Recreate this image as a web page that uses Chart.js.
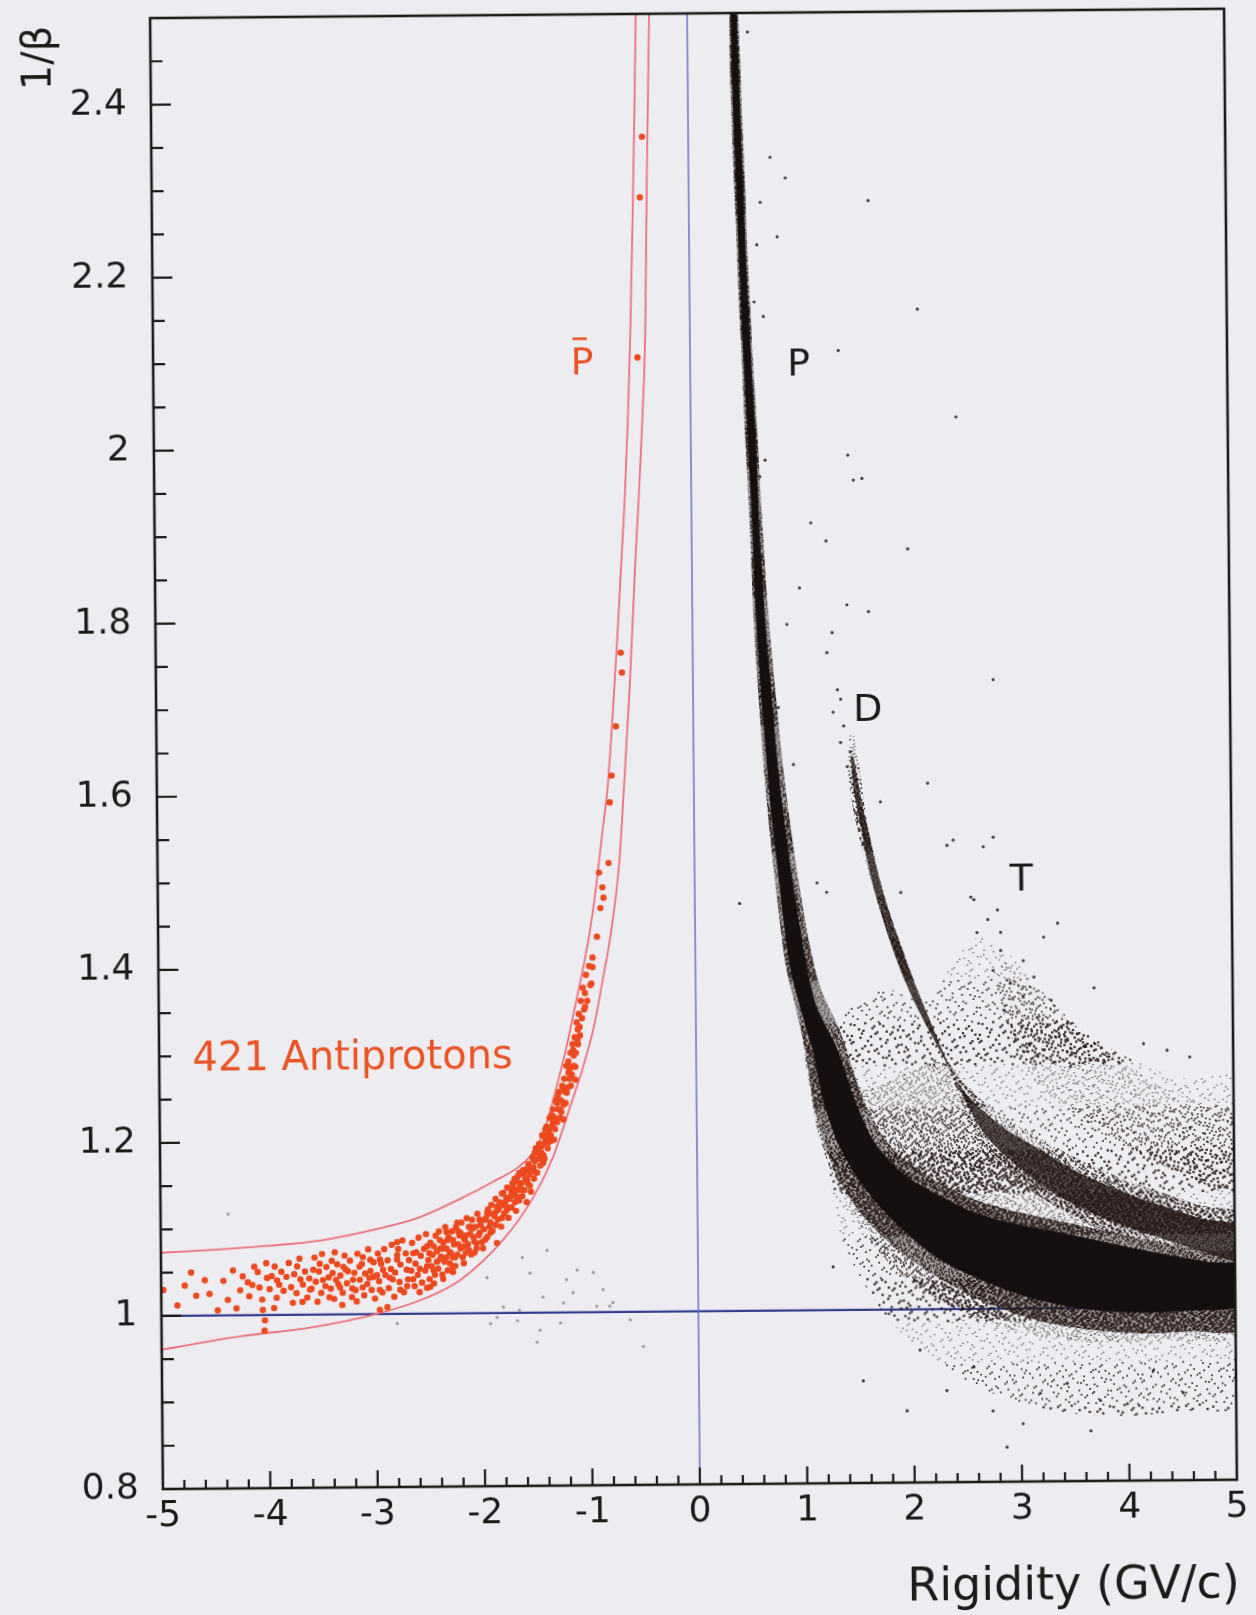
<!DOCTYPE html>
<html>
<head>
<meta charset="utf-8">
<title>1/β vs rigidity</title>
<script src="https://cdn.jsdelivr.net/npm/chart.js@4.4.0/dist/chart.umd.min.js"></script>
<style>
  html, body { margin: 0; padding: 0; background: #edecf0; overflow: hidden; }
  #wrap { width: 1256px; height: 1615px; }
  /* the printed figure sits slightly askew on the page */
  #tof { display: block; transform: rotate(-0.5deg); transform-origin: 628px 807px; }
</style>
</head>
<body>
<div id="wrap"><canvas id="tof" width="1256" height="1615"></canvas></div>
<script>
// axis ticks
const rigidityTicks = [-5, -4, -3, -2, -1, 0, 1, 2, 3, 4, 5];
const invBetaTicks = [0.8, 1, 1.2, 1.4, 1.6, 1.8, 2, 2.2, 2.4];

// antiproton selection band (upper and lower cut curves), [R, 1/beta]
const cutUpper = [[-5.0,1.073],[-4.5,1.076],[-4.0,1.080],[-3.5,1.086],[-3.0,1.098],[-2.6,1.111],[-2.2,1.133],
  [-1.9,1.152],[-1.65,1.170],[-1.50,1.190],[-1.39,1.222],[-1.30,1.262],[-1.21,1.305],[-1.13,1.35],[-1.05,1.395],
  [-0.98,1.44],[-0.92,1.49],[-0.86,1.55],[-0.80,1.61],[-0.75,1.69],[-0.70,1.78],[-0.655,1.87],[-0.62,1.94],
  [-0.585,2.03],[-0.555,2.13],[-0.525,2.26],[-0.50,2.38],[-0.475,2.52]];
const cutLower = [[-5.0,0.961],[-4.25,0.976],[-3.62,0.985],[-3.0,1.0],[-2.52,1.019],[-2.21,1.039],[-1.81,1.085],
  [-1.53,1.133],[-1.34,1.18],[-1.18,1.237],[-1.06,1.281],[-0.95,1.33],[-0.87,1.38],[-0.775,1.445],[-0.70,1.52],
  [-0.654,1.60],[-0.59,1.72],[-0.525,1.87],[-0.49,1.94],[-0.45,2.03],[-0.416,2.13],[-0.39,2.30],[-0.35,2.52]];

// the 421 antiproton candidates
const antiprotons = [
  [-0.43,2.358],[-0.455,2.288],[-0.49,2.103],[-0.765,1.62],
  [-0.67,1.762],[-0.66,1.739],[-0.72,1.677],[-0.785,1.589],[-0.80,1.519],[-0.89,1.508],[-0.86,1.491],[-0.85,1.479],
  [-0.88,1.467],[-0.915,1.434],[-0.957,1.41],[-0.958,1.399],[-0.98,1.378],[-1.03,1.369],[-1.03,1.353],[-1.083,1.33],
  [-1.104,1.315],[-1.145,1.303],[-1.156,1.284],[-1.126,1.284],
  [-1.105,1.311],[-1.127,1.269],[-1.208,1.254],[-1.27,1.234],[-1.24,1.223],[-1.34,1.219],[-1.39,1.203],[-1.35,1.199],
  [-1.463,1.184],[-1.524,1.168],[-1.434,1.173],[-1.655,1.162],[-1.585,1.154],[-1.716,1.146],[-1.806,1.139],[-1.686,1.135],
  [-1.867,1.123],[-1.958,1.116],[-1.777,1.119],[-2.028,1.108],[-1.939,1.1],[-2.119,1.1],[-2.209,1.093],[-2.28,1.085],
  [-2.4,1.085],[-2.18,1.077],[-2.341,1.065],[-2.5,1.07],[-2.462,1.05],[-2.282,1.054],[-2.524,1.03],[-1.87,1.081],[-2.06,1.081],
  [-4.593,1.041],[-4.674,1.023],[-4.475,1.006],[-4.98,1.03],[-4.036,0.994],[-4.055,1.006],[-4.04,0.982],[-4.264,1.029],
  [-4.193,1.038],[-4.132,1.056],[-4.084,1.032],[-4.013,1.043],[-3.942,1.056],[-3.925,1.02],[-3.833,1.044],[-3.732,1.056],
  [-3.703,1.041],[-3.775,1.014],[-3.685,1.015],[-3.614,1.029],[-3.582,1.052],[-3.522,1.059],[-3.493,1.04],[-3.545,1.015],
  [-3.434,1.02],[-3.402,1.048],[-3.381,1.072],[-3.334,1.031],[-3.302,1.055],[-3.315,1.011],[-3.224,1.02],[-3.213,1.04],
  [-3.152,1.055],[-3.124,1.031],[-3.051,1.063],[-3.023,1.043],[-2.964,1.028],[-2.932,1.051],[-2.895,1.008],[-2.965,1.005],
  [-2.843,1.04],[-2.801,1.063],[-2.80,1.083],[-2.774,1.028],[-2.712,1.051],[-2.653,1.04],[-2.621,1.071],[-2.594,1.025],
  [-2.522,1.055],[-2.494,1.031],[-2.46,1.078],[-2.40,1.063],[-2.373,1.04],[-2.339,1.094],[-2.311,1.071],[-2.282,1.048],[-2.238,1.105],
  [-2.43,1.06],[-2.38,1.075],[-2.33,1.05],[-2.26,1.065],[-2.23,1.08],[-2.18,1.058],[-2.16,1.09],[-2.13,1.073],[-2.10,1.098],
  [-2.08,1.083],[-2.03,1.093],[-2.0,1.075],[-1.98,1.108],[-1.93,1.093],[-1.90,1.115],[-1.88,1.102],[-1.84,1.128],[-1.82,1.11],
  [-1.78,1.133],[-1.76,1.122],[-1.73,1.14],[-1.70,1.128],[-1.68,1.152],[-1.64,1.142],[-1.62,1.16],[-1.58,1.167],[-1.56,1.147],
  [-1.53,1.178],[-1.50,1.162],[-1.48,1.187],[-1.45,1.192],[-1.43,1.182],[-1.41,1.212],[-1.38,1.197],[-1.34,1.227],[-1.32,1.212],
  [-1.30,1.242],[-1.26,1.232],[-1.24,1.257],[-1.22,1.242],[-1.19,1.277],[-1.17,1.262],[-1.14,1.297],[-1.10,1.327],
  [-3.90,1.035],[-3.88,1.05],[-3.86,1.028],[-3.81,1.06],[-3.79,1.032],[-3.76,1.047],[-3.74,1.025],[-3.71,1.065],[-3.68,1.035],
  [-3.66,1.05],[-3.64,1.02],[-3.62,1.042],[-3.60,1.03],[-3.57,1.066],[-3.56,1.038],[-3.53,1.05],[-3.51,1.025],[-3.50,1.07],
  [-3.47,1.033],[-3.46,1.055],
  [-3.44,1.043],[-3.42,1.03],[-3.41,1.062],[-3.39,1.018],[-3.37,1.04],[-3.36,1.058],[-3.33,1.045],[-3.31,1.025],[-3.29,1.068],
  [-3.27,1.036],[-3.26,1.05],[-3.24,1.062],[-3.22,1.03],[-3.20,1.048],[-3.18,1.015],[-3.17,1.07],[-3.15,1.04],[-3.13,1.058],
  [-3.11,1.022],[-3.10,1.047],[-3.08,1.035],[-3.07,1.075],[-3.05,1.05],[-3.04,1.028],[-3.02,1.06],[-3.01,1.018],[-2.99,1.045],
  [-2.98,1.07],[-2.97,1.038],[-2.95,1.058],
  [-2.94,1.025],[-2.92,1.075],[-2.91,1.045],[-2.89,1.062],[-2.88,1.03],[-2.86,1.052],[-2.85,1.08],[-2.83,1.02],[-2.82,1.048],
  [-2.80,1.068],[-2.78,1.037],[-2.77,1.057],[-2.75,1.085],[-2.74,1.025],[-2.72,1.07],[-2.70,1.04],[-2.69,1.062],[-2.67,1.05],
  [-2.66,1.082],[-2.64,1.032],[-2.63,1.058],[-2.61,1.045],[-2.60,1.088],[-2.58,1.067],[-2.57,1.036],[-2.55,1.075],[-2.54,1.05],
  [-2.53,1.092],[-2.51,1.062],[-2.50,1.04],[-2.49,1.082],[-2.48,1.055],[-2.47,1.068],[-2.45,1.045],[-2.44,1.09],
  [-2.43,1.072],[-2.42,1.052],[-2.41,1.095],[-2.39,1.066],[-2.38,1.045],[-2.37,1.082],[-2.36,1.06],[-2.35,1.1],[-2.34,1.075],
  [-2.32,1.088],[-2.31,1.058],[-2.30,1.07],[-2.29,1.095],[-2.27,1.08],[-2.26,1.055],[-2.25,1.1],[-2.24,1.068],[-2.22,1.09],
  [-2.21,1.075],[-2.20,1.105],[-2.19,1.065],[-2.17,1.085],[-2.16,1.07],[-2.15,1.11],[-2.14,1.08],[-2.12,1.092],[-2.11,1.068],
  [-2.10,1.108],[-2.09,1.088],[-2.07,1.1],[-2.06,1.075],[-2.05,1.115],[-2.04,1.09],[-2.02,1.102],[-2.01,1.082],
  [-1.99,1.097],[-1.97,1.11],[-1.96,1.088],[-1.95,1.12],[-1.93,1.105],[-1.92,1.125],[-1.91,1.095],[-1.89,1.112],[-1.88,1.132],
  [-1.86,1.108],[-1.85,1.12],[-1.83,1.1],[-1.82,1.138],[-1.80,1.115],[-1.79,1.128],[-1.77,1.145],[-1.76,1.11],[-1.75,1.132],
  [-1.73,1.122],[-1.72,1.15],[-1.71,1.138],[-1.69,1.118],[-1.68,1.142],[-1.67,1.158],[-1.66,1.13],[-1.65,1.148],[-1.63,1.135],
  [-1.62,1.165],[-1.61,1.142],[-1.60,1.155],[-1.59,1.128],[-1.58,1.15],[-1.57,1.172],[-1.56,1.16],[-1.55,1.14],
  [-1.54,1.165],[-1.53,1.18],[-1.52,1.155],[-1.51,1.175],[-1.50,1.19],[-1.49,1.162],[-1.48,1.178],[-1.47,1.195],[-1.46,1.17],
  [-1.45,1.185],[-1.44,1.205],[-1.43,1.195],[-1.42,1.178],[-1.41,1.2],[-1.40,1.215],[-1.39,1.19],[-1.38,1.21],[-1.37,1.225],
  [-1.36,1.205],[-1.35,1.215],[-1.34,1.235],[-1.33,1.2],[-1.32,1.225],[-1.31,1.245],[-1.30,1.22],[-1.29,1.235],[-1.28,1.255],
  [-1.27,1.225],[-1.26,1.245],[-1.25,1.262],
  [-1.24,1.24],[-1.23,1.27],[-1.22,1.255],[-1.21,1.285],[-1.20,1.26],[-1.19,1.29],[-1.18,1.27],[-1.17,1.3],[-1.16,1.275],
  [-1.15,1.31],[-1.14,1.285],[-1.13,1.318],[-1.12,1.3],[-1.11,1.335],[-1.10,1.31],[-1.09,1.345],[-1.08,1.32],[-1.07,1.36],
  [-1.06,1.34],[-1.05,1.375],[-1.04,1.35],[-1.02,1.39],[-1.01,1.36],[-0.99,1.4],[-0.97,1.38],
  [-4.85,1.012],[-4.78,1.035],[-4.72,1.05],[-4.55,1.025],[-4.42,1.04],[-4.38,1.018],[-4.33,1.052],[-4.30,1.008],[-4.24,1.045],
  [-4.18,1.022],[-4.15,1.035],[-4.10,1.05],[-4.06,1.018],[-4.02,1.06],[-3.99,1.03],[-3.97,1.045],[-3.95,1.008],[-3.92,1.04],
  [-3.35,1.035],[-3.28,1.052],[-3.19,1.028],[-3.12,1.066],[-3.06,1.042],[-2.96,1.063],[-2.87,1.042],[-2.79,1.075],[-2.71,1.032],
  [-2.65,1.07],[-2.59,1.052],[-2.52,1.078],[-2.46,1.035],[-2.40,1.075],[-2.33,1.085],[-2.28,1.065],[-2.23,1.095],[-2.18,1.088],
  [-2.13,1.1],[-2.08,1.07],[-2.03,1.108],[-1.98,1.085],[-1.94,1.115],[-1.87,1.118],[-1.81,1.125],[-1.74,1.135],[-1.70,1.155],
  [-1.64,1.15],[-1.59,1.165],[-1.51,1.185],[-1.45,1.178],[-1.40,1.205],[-1.35,1.228],[-1.29,1.25],[-1.18,1.282]
];

// faint negative-rigidity hits outside the band
const grayHits = [[-1.405,1.072],[-1.635,1.064],[-1.565,1.046],[-1.225,1.038],[-1.125,1.049],[-0.975,1.046],[-0.885,1.026],
  [-1.445,1.018],[-1.965,1.041],[-1.255,1.011],[-0.795,1.011],[-1.815,1.007],[-1.665,1.003],[-1.935,0.988],[-1.685,0.991],
  [-1.475,0.98],[-1.505,0.966],[-1.285,0.988],[-0.635,0.991],[-1.875,0.995],[-2.805,0.989],[-1.165,1.023],[-0.945,1.007],
  [-0.825,1.007],[-0.515,0.96],[-4.37,1.117]];

// isolated positive-rigidity hits
const strayHits = [[0.56,2.478],[0.76,2.333],[0.90,2.309],[0.665,2.281],[0.82,2.241],[0.63,2.232],[0.60,2.166],[0.685,2.149],
  [0.69,1.983],[0.64,1.964],[1.67,2.282],[2.12,2.156],[1.38,2.109],[2.47,2.031],[1.46,1.988],[1.51,1.959],[1.59,1.961],
  [1.11,1.91],[1.25,1.889],[2.01,1.879],[1.0,1.835],[1.44,1.815],[1.64,1.807],[1.30,1.783],[0.88,1.793],[1.25,1.76],
  [1.345,1.717],[1.374,1.706],[1.303,1.691],[1.40,1.675],[1.37,1.656],[1.46,1.645],[1.43,1.628],[1.517,1.613],[2.795,1.727],
  [2.177,1.608],[1.736,1.587],[0.929,1.631],[0.793,1.697],[2.783,1.545],[2.352,1.536],[1.918,1.482],[2.598,1.473],
  [1.139,1.494],[1.228,1.483],[0.417,1.471],[2.726,1.45],[2.845,1.435],[3.376,1.445],
  [2.41,1.542],[2.69,1.534],[2.57,1.476],[2.817,1.461],[3.245,1.429],[2.625,1.435],[2.844,1.414],[3.053,1.402],
  [2.772,1.391],[3.151,1.383],[2.931,1.376],[3.71,1.37],[3.31,1.356],[3.05,1.36],[2.869,1.345],[3.178,1.336],[3.458,1.329],
  [3.307,1.313],[3.616,1.302],[4.166,1.305],[4.385,1.297],[4.595,1.289],[3.795,1.286],[3.484,1.279],
  [1.53,0.918],[1.936,0.883],[2.061,0.953],[2.308,0.906],[2.56,0.933],[2.736,0.882],[3.015,0.867],[3.178,0.902],
  [3.428,0.913],[3.737,0.893],[3.987,0.889],[4.23,0.927],[4.508,0.901],[3.645,0.858],[2.863,0.84],[1.258,1.05]];

// outlines of the dense event populations (traced around each band)
const protonCore = [[0.41,2.52],[0.425,2.4],[0.45,2.3],[0.475,2.2],[0.505,2.1],[0.54,2.0],[0.575,1.9],[0.60,1.8],[0.65,1.7],
  [0.71,1.6],[0.79,1.5],[0.885,1.4],[0.98,1.35],[1.093,1.301],[1.183,1.244],[1.335,1.189],[1.579,1.139],[1.887,1.096],
  [2.258,1.058],[2.722,1.03],[3.187,1.01],[3.652,0.999],[4.117,0.995],[4.583,0.997],[5.05,1.003],
  [5.05,1.046],[4.74,1.051],[4.12,1.066],[3.50,1.083],[2.88,1.099],[2.51,1.114],[2.139,1.138],[1.892,1.158],[1.645,1.193],
  [1.463,1.243],[1.311,1.300],[1.12,1.35],[1.025,1.4],[0.90,1.5],[0.80,1.6],[0.73,1.7],[0.67,1.8],[0.625,1.9],[0.60,2.0],
  [0.56,2.1],[0.525,2.2],[0.50,2.3],[0.475,2.4],[0.45,2.52]];
const protonFringe = [[0.39,2.52],[0.40,2.4],[0.425,2.3],[0.45,2.2],[0.48,2.1],[0.51,2.0],[0.545,1.9],[0.57,1.8],
  [0.615,1.7],[0.67,1.6],[0.745,1.5],[0.84,1.4],[0.93,1.35],[1.03,1.29],[1.10,1.23],[1.25,1.17],[1.50,1.115],[1.85,1.07],
  [2.25,1.035],[2.72,1.005],[3.19,0.985],[3.65,0.975],[4.12,0.97],[4.58,0.972],[5.05,0.975],
  [5.05,1.06],[4.74,1.065],[4.12,1.08],[3.5,1.097],[2.88,1.115],[2.51,1.13],[2.14,1.155],[1.89,1.178],[1.66,1.215],
  [1.49,1.265],[1.35,1.32],[1.17,1.37],[1.07,1.42],[0.94,1.52],[0.84,1.62],[0.765,1.72],[0.70,1.82],[0.655,1.92],
  [0.625,2.0],[0.585,2.1],[0.55,2.2],[0.525,2.3],[0.50,2.4],[0.47,2.52]];
const deuteronCore = [[1.46,1.64],[1.49,1.60],[1.55,1.56],[1.64,1.50],[1.83,1.42],[2.0,1.365],[2.2,1.315],[2.5,1.25],
  [2.85,1.21],[3.2,1.183],[3.5,1.16],[3.81,1.142],[4.1,1.127],[4.43,1.113],[4.7,1.102],[5.05,1.092],
  [5.05,1.054],[4.7,1.064],[4.43,1.075],[4.1,1.089],[3.81,1.102],[3.5,1.12],[3.2,1.143],[2.95,1.168],[2.66,1.205],
  [2.36,1.28],[2.16,1.34],[1.97,1.40],[1.76,1.48],[1.59,1.57],[1.53,1.61],[1.49,1.64]];
const deuteronFringe = [[1.455,1.665],[1.44,1.62],[1.48,1.58],[1.60,1.515],[1.79,1.435],[1.96,1.38],[2.16,1.33],[2.46,1.265],
  [2.82,1.225],[3.18,1.198],[3.5,1.175],[3.81,1.157],[4.1,1.142],[4.43,1.128],[4.7,1.117],[5.05,1.107],
  [5.05,1.04],[4.7,1.05],[4.43,1.061],[4.1,1.075],[3.81,1.088],[3.5,1.106],[3.2,1.128],[2.95,1.152],[2.68,1.188],
  [2.42,1.255],[2.22,1.32],[2.02,1.385],[1.80,1.465],[1.63,1.55],[1.55,1.62],[1.49,1.665]];
const tritonBand = [[2.85,1.42],[3.2,1.37],[3.6,1.32],[4.0,1.28],[4.5,1.245],[5.05,1.22],[5.05,1.13],[4.5,1.155],
  [4.0,1.185],[3.6,1.215],[3.2,1.255],[2.95,1.31],[2.8,1.37]];
const haloMid = [[0.86,1.50],[0.92,1.40],[0.98,1.33],[1.04,1.27],[1.12,1.21],[1.25,1.16],[1.45,1.11],[1.7,1.065],
  [2.0,1.03],[2.4,1.0],[2.8,0.98],[3.3,0.965],[3.8,0.96],[4.3,0.962],[5.05,0.968],
  [5.05,1.054],[4.7,1.064],[4.43,1.075],[4.1,1.089],[3.81,1.102],[3.5,1.12],[3.2,1.143],[2.95,1.168],[2.66,1.205],
  [2.36,1.28],[2.2,1.285],[1.9,1.27],[1.6,1.255],[1.35,1.26],[1.15,1.31],[1.02,1.42],[0.93,1.52]];
const haloSparse = [[1.2,1.20],[1.3,1.10],[1.5,1.04],[1.8,0.985],[2.2,0.94],[2.6,0.91],[3.0,0.89],[3.5,0.878],[4.0,0.875],
  [4.5,0.88],[5.05,0.89],[5.05,1.26],[4.5,1.265],[4.0,1.29],[3.6,1.32],[3.2,1.36],[2.9,1.40],[2.65,1.43],[2.4,1.40],
  [2.2,1.36],[2.0,1.36],[1.8,1.37],[1.55,1.36],[1.3,1.33],[1.15,1.30]];

const FONT = '"DejaVu Sans", "Liberation Sans", sans-serif';
const INK = '#1d1a1a';
const ORANGE = 'rgb(234,84,36)';
const toXY = pts => pts.map(([x, y]) => ({x, y}));
const fmt = v => String(Math.round(v * 10) / 10);

// Halton sequence, used to scatter the stipple dots inside a pattern tile
function halton(i, b) {
  let f = 1, r = 0;
  while (i > 0) { f /= b; r += f * (i % b); i = Math.floor(i / b); }
  return r;
}

// stippled fill for the scattered event clouds; dots wrap across the tile edges
function stipple(count, shade, offset) {
  const size = 128;
  const tile = document.createElement('canvas');
  tile.width = tile.height = size;
  const g = tile.getContext('2d');
  if (shade) { g.fillStyle = shade; g.fillRect(0, 0, size, size); }
  g.fillStyle = 'rgba(40,26,23,0.88)';
  for (let i = 1; i <= count; i++) {
    const s = 1.2 + ((i * 7) % 3) * 0.55;
    const px = halton(i + offset, 2) * size, py = halton(i + offset, 3) * size;
    for (const dx of [0, -size]) for (const dy of [0, -size]) g.fillRect(px + dx, py + dy, s, s);
  }
  return g.createPattern(tile, 'repeat');
}

function region(label, pts, fill) {
  return {label, data: toXY(pts), showLine: true, fill: 'shape', backgroundColor: fill,
    borderColor: 'transparent', borderWidth: 0, pointRadius: 0, tension: 0.3};
}

const axesAndNotes = {
  id: 'axesAndNotes',
  afterDatasetsDraw(chart) {
    const {ctx, chartArea: a, scales: {x, y}} = chart;
    ctx.save();
    ctx.strokeStyle = INK;
    ctx.lineWidth = 2.6;
    ctx.strokeRect(a.left, a.top, a.right - a.left, a.bottom - a.top);

    // inward tick marks, minor every 0.05 in 1/beta and 0.2 in rigidity
    ctx.lineWidth = 2.2;
    ctx.beginPath();
    for (let k = 1; k < 34; k++) {
      const py = y.getPixelForValue(0.8 + k * 0.05);
      ctx.moveTo(a.left, py);
      ctx.lineTo(a.left + (k % 4 === 0 ? 20 : 12), py);
    }
    for (let k = 1; k < 50; k++) {
      const px = x.getPixelForValue(-5 + k * 0.2);
      ctx.moveTo(px, a.bottom);
      ctx.lineTo(px, a.bottom - (k % 5 === 0 ? 17 : 9));
    }
    ctx.stroke();

    ctx.fillStyle = INK;
    ctx.font = '36px ' + FONT;
    ctx.textAlign = 'right';
    ctx.textBaseline = 'middle';
    y.ticks.forEach(t => ctx.fillText(fmt(t.value), a.left - 24, y.getPixelForValue(t.value)));
    ctx.textAlign = 'center';
    x.ticks.forEach(t => ctx.fillText(fmt(t.value), x.getPixelForValue(t.value), a.bottom + 28));

    // axis titles
    ctx.font = '46px ' + FONT;
    ctx.textAlign = 'right';
    ctx.fillText('Rigidity (GV/c)', a.right + 2, a.bottom + 106);
    ctx.save();
    ctx.translate(a.left - 110, a.top + 39);
    ctx.rotate(-Math.PI / 2);
    ctx.textAlign = 'center';
    ctx.font = '40px ' + FONT;
    ctx.fillText('1/β', 0, 0);
    ctx.restore();

    // population labels
    const note = (text, vx, vy, color, size, align) => {
      ctx.font = size + 'px ' + FONT;
      ctx.fillStyle = color;
      ctx.textAlign = align;
      ctx.textBaseline = 'alphabetic';
      const px = x.getPixelForValue(vx);
      const base = y.getPixelForValue(vy) + size * 0.36;
      ctx.fillText(text, px, base);
      return {px, base, w: ctx.measureText(text).width};
    };
    const pbar = note('P', -1.005, 2.10, ORANGE, 38, 'center');
    ctx.fillRect(pbar.px - pbar.w / 2 + 2, pbar.base - 38 * 0.73 - 9, pbar.w * 0.62, 2.6);
    note('P', 1.01, 2.096, INK, 38, 'center');
    note('D', 1.626, 1.697, INK, 38, 'center');
    note('T', 3.04, 1.499, INK, 38, 'center');
    note('421 Antiprotons', -4.69, 1.30, ORANGE, 40, 'left');
    ctx.restore();
  }
};

Chart.defaults.font.family = FONT;

new Chart(document.getElementById('tof'), {
  type: 'scatter',
  data: {
    datasets: [
      {label: 'antiprotons', data: toXY(antiprotons), pointRadius: 3.2, pointBorderWidth: 0,
        pointBackgroundColor: 'rgb(236,74,30)'},
      {label: 'upper cut', data: toXY(cutUpper), showLine: true, borderColor: 'rgb(236,112,126)', borderWidth: 1.8,
        pointRadius: 0, cubicInterpolationMode: 'monotone'},
      {label: 'lower cut', data: toXY(cutLower), showLine: true, borderColor: 'rgb(236,112,126)', borderWidth: 1.8,
        pointRadius: 0, cubicInterpolationMode: 'monotone'},
      {label: 'other negative', data: toXY(grayHits), pointRadius: 1.6, pointBorderWidth: 0,
        pointBackgroundColor: 'rgba(90,90,96,0.55)'},
      {label: 'stray', data: toXY(strayHits), pointRadius: 1.6, pointBorderWidth: 0,
        pointBackgroundColor: 'rgba(42,28,25,0.85)'},
      Object.assign(region('protons', protonCore, 'rgb(22,15,15)'),
        {borderColor: 'rgba(22,15,15,0.9)', borderWidth: 2}),
      region('proton fringe', protonFringe, stipple(2600, 'rgba(36,22,20,0.35)', 11)),
      region('deuterons', deuteronCore, stipple(2600, 'rgba(30,18,16,0.72)', 503)),
      region('deuteron fringe', deuteronFringe, stipple(1700, null, 1409)),
      region('tritons', tritonBand, stipple(600, null, 2011)),
      region('halo', haloMid, stipple(1350, null, 907)),
      region('halo outer', haloSparse, stipple(420, null, 3301)),
      {label: 'R = 0', data: [{x: 0, y: 0.8}, {x: 0, y: 2.5}], showLine: true, borderColor: 'rgb(98,106,192)',
        borderWidth: 1.4, pointRadius: 0},
      {label: '1/beta = 1', data: [{x: -5, y: 1}, {x: 5, y: 1}], showLine: true, borderColor: 'rgb(52,62,142)',
        borderWidth: 2.2, pointRadius: 0}
    ]
  },
  options: {
    responsive: false,
    animation: false,
    devicePixelRatio: 1,
    layout: {padding: {left: 0, right: 25, top: 14, bottom: 0}},
    plugins: {legend: {display: false}, tooltip: {enabled: false}},
    scales: {
      x: {
        type: 'linear', min: -5, max: 5,
        grid: {display: false, drawTicks: false}, border: {display: false},
        ticks: {display: false},
        afterBuildTicks: s => { s.ticks = rigidityTicks.map(v => ({value: v})); },
        afterFit: s => { s.height = 130; }
      },
      y: {
        type: 'linear', min: 0.8, max: 2.5,
        grid: {display: false, drawTicks: false}, border: {display: false},
        ticks: {display: false},
        afterBuildTicks: s => { s.ticks = invBetaTicks.map(v => ({value: v})); },
        afterFit: s => { s.width = 157; }
      }
    }
  },
  plugins: [axesAndNotes]
});
</script>
</body>
</html>
